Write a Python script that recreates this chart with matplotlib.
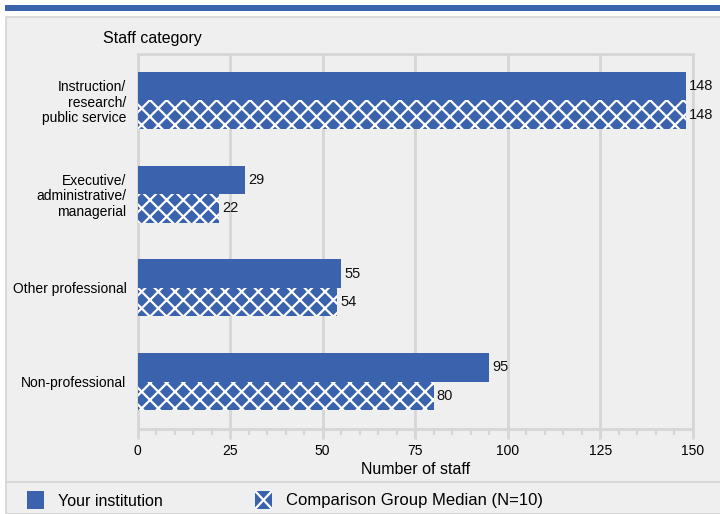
import matplotlib
matplotlib.use("Agg")
import matplotlib.pyplot as plt
from matplotlib.patches import Rectangle
from matplotlib.lines import Line2D
from matplotlib.ticker import MultipleLocator
import numpy as np

categories = ["Instruction/\nresearch/\npublic service",
              "Executive/\nadministrative/\nmanagerial",
              "Other professional",
              "Non-professional"]
your_institution = [148, 29, 55, 95]
comparison_median = [148, 22, 54, 80]
series_names = ["Your institution", "Comparison Group Median (N=10)"]
xticks = [0, 25, 50, 75, 100, 125, 150]

BLUE = "#3b62ad"
PANEL = "#efefef"
GRID = "#d6d6d6"

plt.rcParams['font.family'] = ['Liberation Sans', 'DejaVu Sans']
plt.rcParams['hatch.linewidth'] = 1.6

W, H = 720, 514
fig = plt.figure(figsize=(7.2, 5.14), dpi=100)
fig.patch.set_facecolor("white")

def fx(px): return px / W
def fy(py): return 1 - py / H

# top blue band
fig.add_artist(Rectangle((fx(5), fy(11)), fx(720) - fx(5), fy(5) - fy(11),
                         transform=fig.transFigure, facecolor=BLUE, edgecolor="none",
                         zorder=-10))
# panel
fig.add_artist(Rectangle((fx(5.5), fy(514)), fx(730) - fx(5.5), fy(17) - fy(514),
                         transform=fig.transFigure, facecolor=PANEL,
                         edgecolor="#d4d4d4", linewidth=1.2, zorder=-10))
# legend separator
fig.add_artist(Line2D([fx(5.5), fx(720)], [fy(482), fy(482)],
                      transform=fig.transFigure, color="#d4d4d4", linewidth=1.2,
                      zorder=-9))

ax = fig.add_axes([fx(137.5), fy(428.5), fx(693) - fx(137.5), fy(53.5) - fy(428.5)])
ax.set_facecolor(PANEL)

y = np.arange(len(categories))
h = 0.305
ax.barh(y - h / 2, your_institution, height=h, color=BLUE, edgecolor="none", zorder=3)
ax.barh(y + h / 2, comparison_median, height=h, color=BLUE, edgecolor="white",
        linewidth=0, hatch="xx", zorder=3)

for yi, v in zip(y, your_institution):
    ax.text(v + 0.8, yi - h / 2, str(v), va="center", ha="left", fontsize=10.5, color="#111111")
for yi, v in zip(y, comparison_median):
    ax.text(v + 0.8, yi + h / 2, str(v), va="center", ha="left", fontsize=10.5, color="#111111")

ax.set_xlim(0, 150)
ax.set_ylim(3.5, -0.5)
ax.set_xticks(xticks)
ax.set_xticklabels([str(t) for t in xticks], fontsize=10)
ax.xaxis.set_minor_locator(MultipleLocator(5))
ax.tick_params(axis="x", which="major", length=7, width=2, color=GRID, pad=4)
ax.tick_params(axis="x", which="minor", length=4, width=1.5, color=GRID)
ax.set_yticks(y)
ax.set_yticklabels(categories, fontsize=10, linespacing=1.15)
ax.tick_params(axis="y", length=0, pad=8)
ax.grid(axis="x", color=GRID, linewidth=2, zorder=0)

for s in ["left", "bottom", "top", "right"]:
    ax.spines[s].set_color(GRID)
    ax.spines[s].set_linewidth(2)

ax.set_xlabel("Number of staff", fontsize=11.5, labelpad=3)

fig.text(fx(103), fy(38), "Staff category", fontsize=11.5, va="center", ha="left")

# legend
fig.add_artist(Rectangle((fx(27), fy(509)), fx(17), fy(491) - fy(509),
                         transform=fig.transFigure, facecolor=BLUE, edgecolor="none"))
fig.text(fx(58), fy(501), series_names[0], fontsize=11.5, va="center", ha="left")
fig.add_artist(Rectangle((fx(255), fy(509)), fx(17), fy(491) - fy(509),
                         transform=fig.transFigure, facecolor=BLUE, edgecolor="none"))
fig.add_artist(Line2D([fx(256), fx(271)], [fy(492), fy(508)], transform=fig.transFigure,
                      color="white", linewidth=1.6))
fig.add_artist(Line2D([fx(256), fx(271)], [fy(508), fy(492)], transform=fig.transFigure,
                      color="white", linewidth=1.6))
fig.text(fx(286), fy(501), series_names[1], fontsize=12, va="center", ha="left")

fig.savefig("out.png", dpi=100, facecolor=fig.get_facecolor())
